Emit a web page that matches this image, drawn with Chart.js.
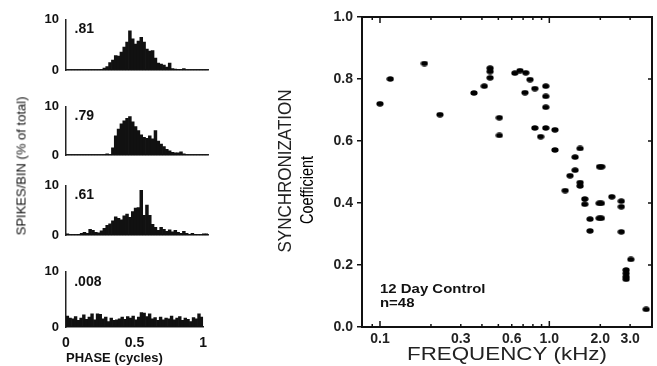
<!DOCTYPE html>
<html>
<head>
<meta charset="utf-8">
<script src="https://cdn.jsdelivr.net/npm/chart.js@4.4.0/dist/chart.umd.min.js"></script>
<style>
body { margin: 0; background: #fff; width: 657px; height: 366px; overflow: hidden; position: relative; font-family: "Liberation Sans", Arial, sans-serif; }
canvas { position: absolute; }
#spikes { position: absolute; left: 21px; top: 166px; transform: translate(-50%, -50%) rotate(-90deg); white-space: nowrap; font-size: 13px; color: #111; }
</style>
</head>
<body>
<canvas id="h1"></canvas>
<canvas id="h2"></canvas>
<canvas id="h3"></canvas>
<canvas id="h4"></canvas>
<div id="spikes">SPIKES/BIN (% of total)</div>
<canvas id="sync"></canvas>
<script>
// phase histograms, 50 bins over one cycle (% of total per bin)
const phaseBins = Array.from({length: 50}, (_, i) => (i + 0.5) / 50);
const hist81 = [0,0,0,0,0,0,0,0,0,0, 0,0,0.1,0.4,0.7,1.5,2.0,2.9,2.8,3.6, 4.6,5.6,7.8,6.2,5.2,5.8,6.5,5.6,4.2,3.8, 3.9,2.4,1.4,1.2,1.0,0.6,1.4,0.3,0.2,0.1, 0.1,0.3,0,0,0,0,0,0,0,0];
const hist79 = [0,0,0,0,0,0,0,0,0,0, 0,0,0,0.1,0.3,0.1,1.5,4.0,5.4,6.5, 7.1,7.6,8.0,6.9,5.9,5.1,4.2,3.7,3.5,4.0, 3.4,5.1,2.9,2.3,1.8,1.2,0.9,0.6,0.5,0.5, 0.7,0.3,0.1,0,0,0,0,0,0,0];
const hist61 = [0.3,0.1,0.1,0.1,0.2,0.4,0.6,0.4,1.2,1.0, 0.6,0.5,0.9,1.4,2.0,2.3,2.9,3.7,3.4,3.1, 3.9,4.3,3.6,4.8,5.5,5.6,9.1,4.0,6.1,4.0, 2.2,1.6,1.0,1.6,1.2,0.8,1.1,0.7,1.0,0.6, 0.4,0.8,0.4,0.2,0.4,0.2,0.1,0.1,0.3,0.3];
const hist008 = [2.0,1.6,1.5,1.9,1.2,1.6,2.2,1.4,1.8,2.4, 1.3,2.4,2.3,1.5,1.8,1.0,1.6,1.2,1.3,1.5, 1.8,1.4,1.9,1.6,2.0,1.3,1.8,2.6,2.5,1.9, 2.4,1.5,1.7,1.2,1.8,1.3,1.6,1.5,2.0,1.3, 1.6,1.9,1.2,1.6,1.4,1.0,1.7,1.5,2.4,1.8];
const coefs = ['.81', '.79', '.61', '.008'];

// synchronization coefficient vs frequency (kHz)
const freq = [0.1,0.115,0.183,0.226,0.359,0.413,0.447,0.447,0.447,0.507,0.507,0.626,0.671,0.726,0.769,0.718,0.821,0.821,0.889,0.953,0.953,0.953,0.953,1.08,1.08,1.52,1.42,1.42,1.325,1.98,2.04,1.52,1.52,1.24,1.62,1.62,1.97,2.03,2.34,2.66,2.66,1.74,1.97,2.03,1.74,2.66,3.03,2.84,2.84,2.84,2.84,3.73];
const sync = [0.72,0.80,0.85,0.685,0.755,0.777,0.835,0.824,0.804,0.675,0.618,0.819,0.827,0.82,0.798,0.756,0.769,0.642,0.614,0.777,0.744,0.709,0.642,0.636,0.571,0.576,0.548,0.506,0.488,0.517,0.517,0.466,0.455,0.44,0.413,0.396,0.399,0.399,0.42,0.406,0.388,0.348,0.351,0.351,0.31,0.307,0.218,0.184,0.173,0.162,0.154,0.057];
const freqTicks = [0.09,0.1,0.2,0.3,0.4,0.5,0.6,0.7,0.8,0.9,1,2,3];
const freqLabelVals = [0.1,0.3,0.6,1,2,3];
const syncTicks = [0,0.2,0.4,0.6,0.8,1.0];

const FONT = '"Liberation Sans", Arial, sans-serif';

const coefLabel = {
  id: 'coefLabel',
  afterDraw(chart, args, opts) {
    const {ctx, scales: {x, y}} = chart;
    ctx.save();
    ctx.font = 'bold 14px ' + FONT;
    ctx.fillStyle = '#111';
    ctx.textBaseline = 'middle';
    ctx.fillText(opts.text, x.getPixelForValue(0.06), y.getPixelForValue(8.1));
    ctx.restore();
  }
};

function makeHist(id, values, coef, y10, y0, last) {
  const cv = document.getElementById(id);
  const padTop = 12;
  const xh = last ? 366 - y0 : 6;
  cv.width = 215;
  cv.height = padTop + (y0 - y10) + xh;
  cv.style.left = '0px';
  cv.style.top = (y10 - padTop) + 'px';
  new Chart(cv, {
    type: 'bar',
    data: {
      labels: phaseBins,
      datasets: [{data: values, backgroundColor: '#111', borderWidth: 0, categoryPercentage: 1, barPercentage: 1}]
    },
    options: {
      responsive: false, animation: false, devicePixelRatio: 1,
      layout: {padding: {top: padTop, right: 7, left: 0, bottom: 0}},
      plugins: {legend: {display: false}, tooltip: {enabled: false}, coefLabel: {text: coef}},
      scales: {
        x: {
          type: 'linear', min: 0, max: 1, offset: false,
          grid: {display: false, drawTicks: false},
          border: {display: true, color: '#222', width: 1.5},
          ticks: {display: last, stepSize: 0.5, padding: 8, maxRotation: 0, color: '#111',
                  font: {family: FONT, size: 14, weight: 'bold'}, callback: v => String(v)},
          title: {display: last, text: 'PHASE (cycles)', align: 'start', color: '#111', padding: {top: 0, bottom: 0},
                  font: {family: FONT, size: 13, weight: 'bold'}},
          afterFit: s => { s.height = xh; }
        },
        y: {
          min: 0, max: 10,
          grid: {display: false, drawTicks: false},
          border: {display: true, color: '#222', width: 1.5},
          ticks: {stepSize: 10, padding: 7, color: '#111', font: {family: FONT, size: 13, weight: 'bold'}},
          afterFit: s => { s.width = 66; }
        }
      }
    },
    plugins: [coefLabel]
  });
}

makeHist('h1', hist81, coefs[0], 17, 79, false);
makeHist('h2', hist79, coefs[1], 104, 164, false);
makeHist('h3', hist61, coefs[2], 183, 244, false);
makeHist('h4', hist008, coefs[3], 269, 327, true);

// elliptical dot marker
const dot = document.createElement('canvas');
dot.width = 8; dot.height = 6;
(function () {
  const c = dot.getContext('2d');
  c.fillStyle = '#000';
  c.beginPath();
  c.ellipse(4, 3, 3.6, 2.7, 0, 0, Math.PI * 2);
  c.fill();
})();

function stretchText(ctx, text, x, y, font, targetW, vertical) {
  ctx.save();
  ctx.translate(x, y);
  if (vertical) ctx.rotate(-Math.PI / 2);
  ctx.font = font;
  const w = ctx.measureText(text).width;
  ctx.scale(targetW / w, 1);
  ctx.textAlign = 'center';
  ctx.textBaseline = 'middle';
  ctx.fillText(text, 0, 0);
  ctx.restore();
}

const frame = {
  id: 'frame',
  afterDraw(chart) {
    const {ctx, chartArea: a, scales: {x, y}} = chart;
    ctx.save();
    ctx.strokeStyle = '#111';
    ctx.lineWidth = 2;
    ctx.strokeRect(a.left, a.top, a.right - a.left, a.bottom - a.top);
    ctx.lineWidth = 1.5;
    ctx.beginPath();
    x.ticks.forEach(t => {
      const px = x.getPixelForValue(t.value);
      const len = (t.value === 0.1 || t.value === 1) ? 6 : 3;
      ctx.moveTo(px, a.bottom); ctx.lineTo(px, a.bottom - len);
      ctx.moveTo(px, a.top); ctx.lineTo(px, a.top + len);
    });
    y.ticks.forEach(t => {
      const py = y.getPixelForValue(t.value);
      ctx.moveTo(a.right, py); ctx.lineTo(a.right - 4, py);
    });
    ctx.stroke();

    ctx.fillStyle = '#222';
    stretchText(ctx, 'SYNCHRONIZATION', 16, 171, '18px ' + FONT, 163, true);
    ctx.fillStyle = '#000';
    stretchText(ctx, 'Coefficient', 38, 190, '19px ' + FONT, 68, true);
    ctx.fillStyle = '#222';
    stretchText(ctx, 'FREQUENCY (kHz)', (a.left + a.right) / 2, 355, '18px ' + FONT, 200, false);

    ctx.fillStyle = '#111';
    ctx.font = 'bold 13px ' + FONT;
    ctx.textBaseline = 'middle';
    const lx = x.getPixelForValue(0.1);
    [['12 Day Control', 0.12], ['n=48', 0.077]].forEach(([s, v]) => {
      ctx.save();
      ctx.translate(lx, y.getPixelForValue(v));
      ctx.scale(1.15, 1);
      ctx.fillText(s, 0, 0);
      ctx.restore();
    });
    ctx.restore();
  }
};

const sc = document.getElementById('sync');
sc.width = 387; sc.height = 366;
sc.style.left = '270px'; sc.style.top = '0px';
new Chart(sc, {
  type: 'scatter',
  data: {
    datasets: [{
      data: freq.map((f, i) => ({x: f, y: sync[i]})),
      pointStyle: dot, pointRadius: 3, backgroundColor: '#000', borderWidth: 0
    }]
  },
  options: {
    responsive: false, animation: false, devicePixelRatio: 1,
    layout: {padding: {top: 17, right: 5, left: 0, bottom: 0}},
    plugins: {legend: {display: false}, tooltip: {enabled: false}},
    scales: {
      x: {
        type: 'logarithmic', min: 0.0783, max: 4.04,
        grid: {display: false, drawTicks: false},
        border: {display: false},
        afterBuildTicks: s => { s.ticks = freqTicks.map(v => ({value: v})); },
        ticks: {
          autoSkip: false, maxRotation: 0, padding: 4, color: '#222',
          font: {family: FONT, size: 14, weight: 'bold'},
          callback: v => freqLabelVals.includes(v) ? v.toFixed(1) : ''
        },
        afterFit: s => { s.height = 39; }
      },
      y: {
        min: 0, max: 1,
        grid: {drawOnChartArea: false, drawTicks: true, tickLength: 5, color: '#111', lineWidth: 1.5},
        border: {display: false},
        afterBuildTicks: s => { s.ticks = syncTicks.map(v => ({value: v})); },
        ticks: {padding: 4, color: '#222', font: {family: FONT, size: 14, weight: 'bold'},
                callback: v => v.toFixed(1)},
        afterFit: s => { s.width = 92; }
      }
    }
  },
  plugins: [frame]
});
</script>
</body>
</html>
